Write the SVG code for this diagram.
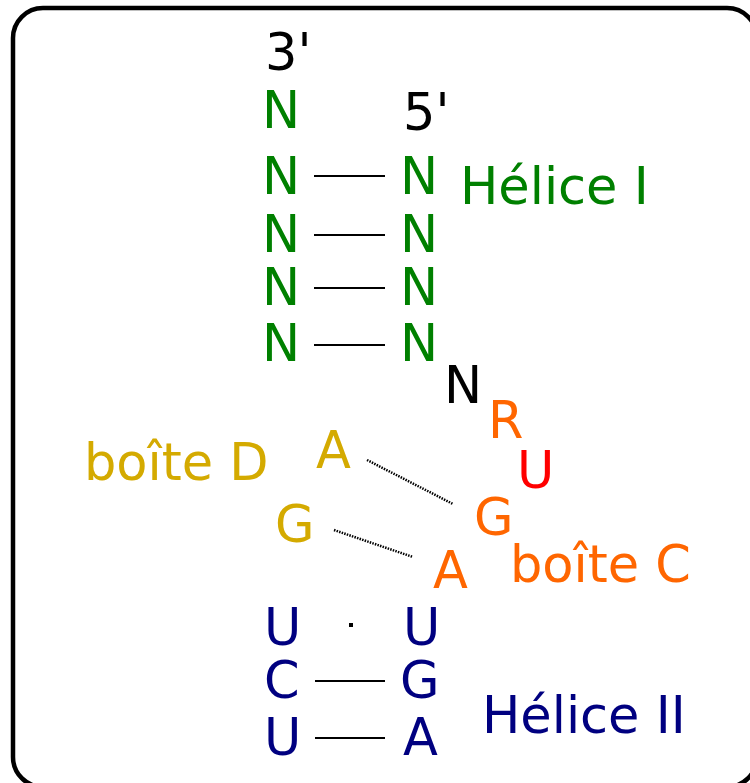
<svg xmlns="http://www.w3.org/2000/svg" width="750" height="783" viewBox="0 0 750 783">
<style>
text{font-family:"DejaVu Sans","Liberation Sans",sans-serif;font-size:51px}
.k{fill:#000}.g{fill:#008000}.y{fill:#d4aa00}.o{fill:#ff6600}.r{fill:#ff0000}.b{fill:#000080}
.pair{stroke:#000;stroke-width:2;fill:none}
.nc{stroke:#000;stroke-width:2.5;stroke-dasharray:1.5 1.2;fill:none}
</style>
<rect x="13" y="8" width="744" height="779" rx="30" ry="30" fill="#fff" stroke="#000" stroke-width="4.5"/>
<g id="connectors">
<line class="pair" x1="314" y1="176" x2="385" y2="176"/>
<line class="pair" x1="314" y1="235" x2="385" y2="235"/>
<line class="pair" x1="314" y1="288" x2="385" y2="288"/>
<line class="pair" x1="314" y1="345" x2="385" y2="345"/>
<line class="nc" x1="367" y1="460" x2="453" y2="504"/>
<line class="nc" x1="334" y1="530" x2="413" y2="557"/>
<rect x="349" y="623" width="4" height="4" fill="#000"/>
<line class="pair" x1="315" y1="681" x2="385" y2="681"/>
<line class="pair" x1="315" y1="738" x2="385" y2="738"/>
</g>
<g id="ends">
<text class="k" x="265" y="70">3'</text>
<text class="k" x="403" y="130">5'</text>
</g>
<g id="helice1">
<text class="g" x="262" y="128">N</text>
<text class="g" x="262" y="194">N</text>
<text class="g" x="400" y="194">N</text>
<text class="g" x="262" y="252">N</text>
<text class="g" x="400" y="252">N</text>
<text class="g" x="262" y="305">N</text>
<text class="g" x="400" y="305">N</text>
<text class="g" x="262" y="361">N</text>
<text class="g" x="400" y="361">N</text>
<text class="g" x="460" y="204">Hélice I</text>
</g>
<g id="linker">
<text class="k" x="444" y="403">N</text>
<text class="o" x="488" y="438">R</text>
<text class="r" x="517" y="488">U</text>
</g>
<g id="boxC">
<text class="o" x="474" y="535">G</text>
<text class="o" x="433" y="588">A</text>
<text class="o" x="510" y="582">boîte C</text>
</g>
<g id="boxD">
<text class="y" x="84" y="480">boîte D</text>
<text class="y" x="316" y="468">A</text>
<text class="y" x="275" y="542">G</text>
</g>
<g id="helice2">
<text class="b" x="264" y="645">U</text>
<text class="b" x="403" y="645">U</text>
<text class="b" x="264" y="698">C</text>
<text class="b" x="400" y="698">G</text>
<text class="b" x="264" y="755">U</text>
<text class="b" x="403" y="755">A</text>
<text class="b" x="482" y="733">Hélice II</text>
</g>
</svg>
